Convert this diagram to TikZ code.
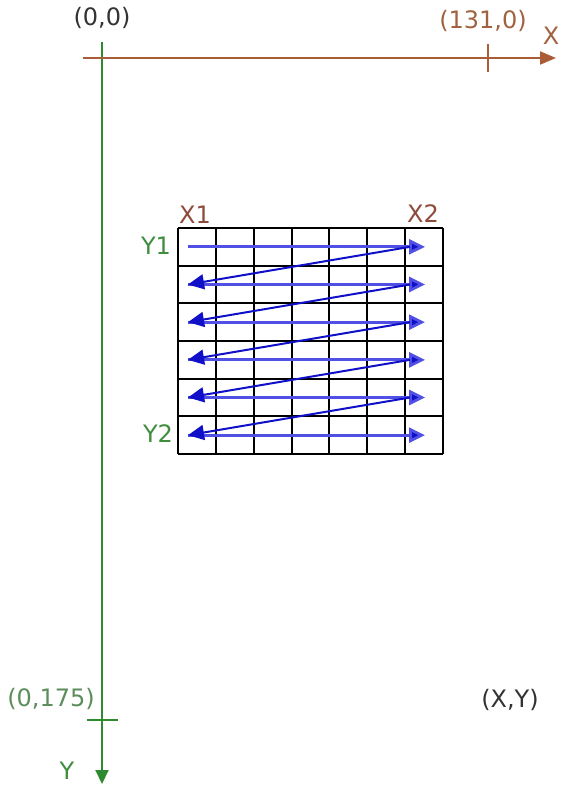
\documentclass[tikz,border=0pt]{standalone}
\usepackage{fontspec}
\setmainfont{DejaVu Sans}
\usetikzlibrary{arrows.meta}

\definecolor{axisx}{HTML}{A95C36}
\definecolor{labx}{HTML}{A0623F}
\definecolor{cornx}{HTML}{8E4A3A}
\definecolor{axisy}{HTML}{2F8A2F}
\definecolor{laby}{HTML}{5B8E5B}
\definecolor{cornery}{HTML}{3E8E3E}
\definecolor{scandark}{HTML}{1010C8}
\definecolor{scanlight}{HTML}{5050E4}

\begin{document}
\begin{tikzpicture}[
        x=1pt, y=-1pt,
        lbl/.style={font=\fontsize{24}{28}\selectfont, inner sep=0pt},
        axis_x/.style={draw=axisx, line width=2pt, -{Triangle[length=16pt,width=13pt]}},
        axis_y/.style={draw=axisy, line width=2pt, -{Triangle[length=14pt,width=13pt]}},
        cell/.style={draw=black, line width=2pt},
        scan_row/.style={draw=scanlight, line width=2.8pt, -{Triangle[length=16pt,width=15pt,fill=scandark]}},
        scan_diag/.style={draw=scandark, line width=2pt, -{Triangle[length=16pt,width=15pt]}}
    ]
    \useasboundingbox (0,0) rectangle (561,792);

    % axes
    \coordinate (origin) at (102,58);
    \coordinate (xstart) at (83,58);
    \coordinate (xend) at (556,58);
    \coordinate (ystart) at (102,42);
    \coordinate (yend) at (102,784);
    \coordinate (xtick) at (488,58);
    \coordinate (ytick) at (102,720);

    \draw[axis_y] (ystart) -- (yend);
    \draw[axis_x] (xstart) -- (xend);
    \draw[draw=axisx, line width=1.6pt] ([yshift=14pt]xtick) -- ([yshift=-14pt]xtick);
    \draw[draw=axisy, line width=1.6pt] ([xshift=-15pt]ytick) -- ([xshift=16pt]ytick);

    \node (o_lbl) [lbl, text=black!80] at (102,18) {(0,0)};
    \node (xmax_lbl) [lbl, text=labx] at (483,21) {(131,0)};
    \node (x_lbl) [lbl, text=labx] at (551,36) {X};
    \node (ymax_lbl) [lbl, text=laby] at (51,699) {(0,175)};
    \node (y_lbl) [lbl, text=cornery] at (67,771) {Y};
    \node (xy_lbl) [lbl, text=black!80] at (510,700) {(X,Y)};

    % block grid 7x6
    \foreach \c in {0,...,7}
        \draw[cell] ({178+\c*37.86},228) -- ({178+\c*37.86},454);
    \foreach \r in {0,...,6}
        \draw[cell] (178,{228+\r*37.67}) -- (443,{228+\r*37.67});

    \node (x1_lbl) [lbl, text=cornx] at (195,215) {X1};
    \node (x2_lbl) [lbl, text=cornx] at (423,214) {X2};
    \node (y1_lbl) [lbl, text=cornery] at (156,246) {Y1};
    \node (y2_lbl) [lbl, text=cornery] at (158,434) {Y2};

    % scan order
    \foreach \r in {1,...,6} {
        \coordinate (L\r) at (188,{228+(\r-0.5)*37.67});
        \coordinate (R\r) at (425,{228+(\r-0.5)*37.67});
        \coordinate (D\r) at (410,{228+(\r-0.5)*37.67});
    }
    \foreach \r in {1,...,6}
        \draw[scan_row] (L\r) -- (R\r);
    \foreach \r [evaluate=\r as \n using int(\r+1)] in {1,...,5}
        \draw[scan_diag] (D\r) -- (L\n);

\end{tikzpicture}
\end{document}
